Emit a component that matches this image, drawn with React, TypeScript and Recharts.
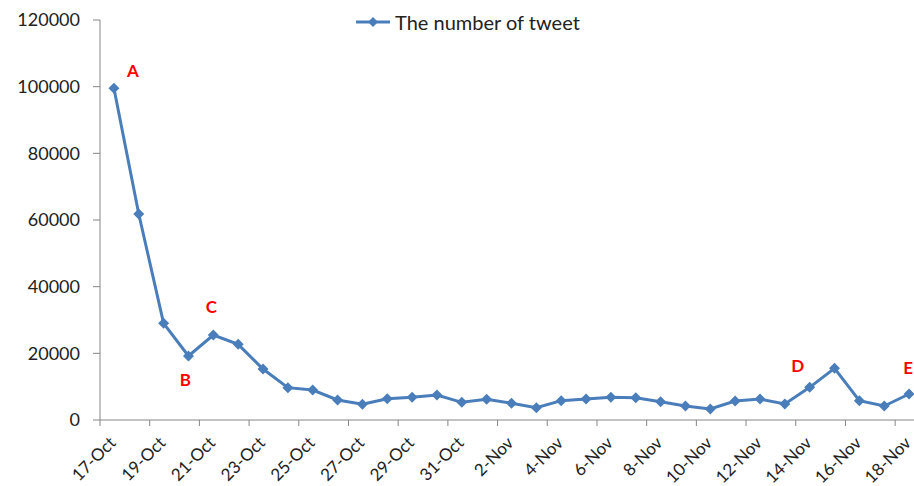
import { LabelList, Legend, Line, LineChart, XAxis, YAxis } from "recharts";

const dates = [
  "17-Oct", "18-Oct", "19-Oct", "20-Oct", "21-Oct", "22-Oct", "23-Oct", "24-Oct", "25-Oct", "26-Oct",
  "27-Oct", "28-Oct", "29-Oct", "30-Oct", "31-Oct", "1-Nov", "2-Nov", "3-Nov", "4-Nov", "5-Nov",
  "6-Nov", "7-Nov", "8-Nov", "9-Nov", "10-Nov", "11-Nov", "12-Nov", "13-Nov", "14-Nov", "15-Nov",
  "16-Nov", "17-Nov", "18-Nov",
];

const tweets = [
  99500, 61800, 29000, 19200, 25500, 22700, 15300, 9700, 9000, 6000,
  4700, 6400, 6800, 7500, 5300, 6200, 5000, 3700, 5800, 6300,
  6800, 6700, 5500, 4200, 3300, 5700, 6300, 4800, 9800, 15500,
  5800, 4200, 7800,
];

const yTicks = [0, 20000, 40000, 60000, 80000, 100000, 120000];

const notes = [
  { date: "17-Oct", letter: "A" },
  { date: "20-Oct", letter: "B" },
  { date: "21-Oct", letter: "C" },
  { date: "14-Nov", letter: "D" },
  { date: "18-Nov", letter: "E" },
];

const data = dates.map((date, i) => ({
  date,
  tweets: tweets[i],
  note: notes.find((n) => n.date === date)?.letter ?? "",
}));

const BLUE = "#4A7EBB";
const AXIS = "#868686";
const FONT = "Lato, 'Open Sans', sans-serif";
const BAND = 820 / dates.length;
const SHIFT = 1.5; // points sit a touch right of band centre in the original

// where each letter sits relative to its point
const noteOffset: Record<string, [number, number]> = {
  A: [19, -11],
  B: [-3, 30],
  C: [-2, -22],
  D: [-12, -15],
  E: [-1, -20],
};

function Diamond(props: any) {
  const { cx, cy } = props;
  if (cx == null || cy == null) return null;
  const r = 5.5;
  return <path d={`M${cx},${cy - r}L${cx + r},${cy}L${cx},${cy + r}L${cx - r},${cy}Z`} fill={BLUE} />;
}

function DateTick(props: any) {
  const { x, y, payload } = props;
  const bx = x - BAND / 2 - SHIFT;
  const tx = x + 3;
  const ty = y + 24;
  return (
    <g>
      <line x1={bx} x2={bx} y1={y} y2={y + 6} stroke={AXIS} />
      <text
        x={tx}
        y={ty}
        textAnchor="end"
        transform={`rotate(-45 ${tx} ${ty})`}
        fontSize={17}
        fontFamily={FONT}
        fill="#222"
      >
        {payload.value}
      </text>
    </g>
  );
}

function NoteLabel(props: any) {
  const { x, y, value } = props;
  if (!value) return null;
  const [dx, dy] = noteOffset[value] ?? [0, 0];
  return (
    <text x={x + dx} y={y + dy} textAnchor="middle" fontSize={17} fontWeight="bold" fontFamily={FONT} fill="#FF0000">
      {value}
    </text>
  );
}

function LegendBox() {
  return (
    <div style={{ display: "flex", alignItems: "center", fontFamily: FONT, fontSize: 20, color: "#222" }}>
      <svg width={36} height={14}>
        <line x1={0} x2={34} y1={7} y2={7} stroke={BLUE} strokeWidth={3} />
        <path d="M17,2L22,7L17,12L12,7Z" fill={BLUE} />
      </svg>
      <span style={{ marginLeft: 3 }}>The number of tweet</span>
    </div>
  );
}

export default function App() {
  return (
    <div style={{ position: "absolute", left: 0, top: 0, width: 914, height: 486, overflow: "hidden", background: "#fff" }}>
      <LineChart width={930} height={486} data={data} margin={{ top: 20, right: 10, bottom: 6, left: 0 }}>
        <XAxis
          dataKey="date"
          interval={1}
          padding={{ left: BAND / 2 + SHIFT, right: BAND / 2 - SHIFT }}
          height={60}
          stroke={AXIS}
          tickLine={false}
          tickSize={0}
          tickMargin={0}
          tick={<DateTick />}
        />
        <YAxis
          domain={[0, 120000]}
          ticks={yTicks}
          width={100}
          stroke={AXIS}
          tickSize={7}
          tickMargin={13}
          tick={{ fill: "#222", fontSize: 18, fontFamily: FONT }}
        />
        <Legend
          layout="horizontal"
          verticalAlign="middle"
          align="center"
          content={<LegendBox />}
          wrapperStyle={{ top: 10, left: 356, width: 320, height: 30 }}
        />
        <Line
          dataKey="tweets"
          stroke={BLUE}
          strokeWidth={3}
          dot={<Diamond />}
          activeDot={false}
          isAnimationActive={false}
        >
          <LabelList dataKey="note" content={<NoteLabel />} />
        </Line>
      </LineChart>
    </div>
  );
}
